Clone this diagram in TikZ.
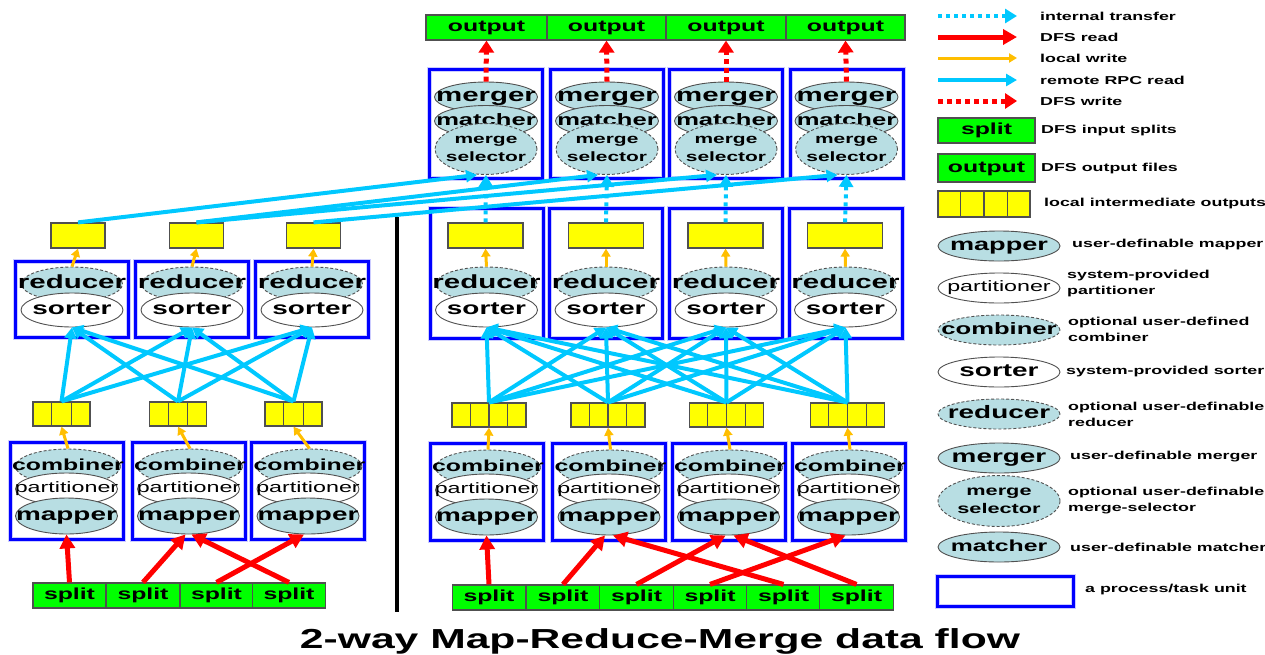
\documentclass[tikz,border=0pt]{standalone}
\usepackage{fontspec}
\setmainfont{Liberation Sans}[FakeStretch=1.55]
\usetikzlibrary{arrows.meta,shapes.geometric,calc}

\definecolor{taskblue}{RGB}{0,0,255}
\definecolor{rpccyan}{RGB}{0,200,255}
\definecolor{writeorange}{RGB}{255,190,0}
\definecolor{dfsred}{RGB}{255,0,0}
\definecolor{filegreen}{RGB}{0,255,0}
\definecolor{bufyellow}{RGB}{255,255,0}
\definecolor{opblue}{RGB}{184,222,227}
\definecolor{edgegray}{RGB}{80,80,80}

% text centred in a node without widening it
\newcommand\ctext[1]{\makebox[0pt]{\rule[-0.4ex]{0pt}{1.79ex}#1}}
\newcommand\twoline[2]{\makebox[0pt]{\begin{tabular}{@{}c@{}}#1\\#2\end{tabular}}}

% a yellow buffer split into equal cells
\newcommand\membuf[6][]{%
  \node[bufbox, minimum width={#5*#6}, #1] (#2) at (#3,#4) {};
  \pgfmathtruncatemacro\lastcell{#5-1}%
  \foreach \k in {1,...,\lastcell}{%
    \draw[bufedge] ($(#2.north west)!\k/#5!(#2.north east)$) -- ($(#2.south west)!\k/#5!(#2.south east)$);}%
}

\tikzset{
  fs/.style={font=\bfseries\fontsize{#1}{#1}\selectfont},
  fsr/.style={font=\mdseries\fontsize{#1}{#1}\selectfont},
  taskbox/.style={rectangle, draw=taskblue, line width=3pt, minimum width=113pt, inner sep=0pt,
    preaction={draw=taskblue!20, line width=5pt}},
  bufbox/.style={rectangle, draw=edgegray, fill=bufyellow, line width=1.2pt, minimum height=24pt, inner sep=0pt},
  bufedge/.style={draw=edgegray, line width=1.2pt},
  filebox/.style={rectangle, draw=edgegray, fill=filegreen, line width=1.2pt, inner sep=0pt, minimum height=25pt, fs=16},
  op/.style={ellipse, draw=edgegray, line width=0.9pt, inner sep=0pt},
  userop/.style={op, fill=opblue},
  sysop/.style={op, fill=white},
  optop/.style={op, fill=opblue, dash pattern=on 3pt off 2pt},
  rpc/.style={draw=rpccyan, line width=4pt, -{Triangle[length=11pt,width=12pt]}},
  internal/.style={draw=rpccyan, line width=4pt, dash pattern=on 4pt off 4pt, -{Triangle[length=12pt,width=14pt]}},
  dfsread/.style={draw=dfsred, line width=5pt, -{Triangle[length=14pt,width=15pt]}},
  dfswrite/.style={draw=dfsred, line width=5pt, dash pattern=on 5pt off 4pt, -{Triangle[length=12pt,width=15pt]}},
  localwrite/.style={draw=writeorange, line width=3pt, -{Triangle[length=8pt,width=9pt]}},
  lab/.style={anchor=west, inner sep=0pt, align=left, font=\bfseries\fontsize{11.5}{16}\selectfont},
}

\begin{document}
\begin{tikzpicture}[x=1pt,y=-1pt]
\useasboundingbox (0,0) rectangle (1265,654);

% ---------- plain Map-Reduce: mappers ----------
\foreach \i/\cx/\bx in {1/66.5/61.5, 2/188.5/178, 3/308/293.5}{
  \node[taskbox, minimum height=97pt] (lmt\i) at (\cx,490.5) {};
  \node[optop, minimum width=105pt, minimum height=35pt, fs=16] (lcomb\i) at (\cx+1.5,466.5) {\ctext{combiner}};
  \node[sysop, minimum width=102pt, minimum height=32pt, fsr=15] (lpart\i) at (\cx,489) {\ctext{partitioner}};
  \node[userop, minimum width=102pt, minimum height=36pt, fs=18] (lmap\i) at (\cx,516) {\ctext{mapper}};
  \membuf{lmb\i}{\bx}{414}{3}{19}
}
% reducers
\foreach \i/\cx/\ox in {1/72/78, 2/192/196.5, 3/312/313.5}{
  \node[taskbox, minimum height=76pt] (lrt\i) at (\cx,299) {};
  \node[optop, minimum width=101pt, minimum height=34pt, fs=19] (lred\i) at (\cx,284) {\ctext{reducer}};
  \node[sysop, minimum width=102pt, minimum height=34pt, fs=18] (lsort\i) at (\cx,310) {\ctext{sorter}};
  \node[bufbox, minimum width=54pt, minimum height=25pt] (lout\i) at (\ox,235.5) {};
}
% input splits
\foreach \i/\cx in {1/69.5, 2/143, 3/216.5, 4/289}{
  \node[filebox, minimum width=73pt] (ls\i) at (\cx,595.5) {\ctext{split}};
}

% ---------- Map-Reduce-Merge side: mappers ----------
\foreach \i/\cx/\bx in {1/486.5/489, 2/609/608, 3/728.5/726.5, 4/848.5/847.5}{
  \node[taskbox, minimum height=97pt] (rmt\i) at (\cx,491.5) {};
  \node[optop, minimum width=105pt, minimum height=35pt, fs=16] (rcomb\i) at (\cx+1.5,467.5) {\ctext{combiner}};
  \node[sysop, minimum width=102pt, minimum height=32pt, fsr=15] (rpart\i) at (\cx,490) {\ctext{partitioner}};
  \node[userop, minimum width=102pt, minimum height=36pt, fs=18] (rmap\i) at (\cx,517) {\ctext{mapper}};
  \membuf{rmb\i}{\bx}{415}{4}{18.5}
}
% reducers
\foreach \i/\cx/\ox in {1/486.5/485.5, 2/606/606, 3/726/725.5, 4/845.5/845}{
  \node[taskbox, minimum height=130pt] (rrt\i) at (\cx,273) {};
  \node[optop, minimum width=101pt, minimum height=34pt, fs=19] (rred\i) at (\cx,284) {\ctext{reducer}};
  \node[sysop, minimum width=102pt, minimum height=34pt, fs=18] (rsort\i) at (\cx,310) {\ctext{sorter}};
  \node[bufbox, minimum width=75pt, minimum height=25pt] (rout\i) at (\ox,235.5) {};
}
% mergers
\foreach \i/\cx in {1/486, 2/607, 3/726, 4/846.5}{
  \node[taskbox, minimum height=109pt] (mgt\i) at (\cx,123.5) {};
  \node[userop, minimum width=103pt, minimum height=30pt, fs=19] (merg\i) at (\cx,97) {\ctext{merger}};
  \node[userop, minimum width=103pt, minimum height=31pt, fs=16.5] (match\i) at (\cx,121) {\ctext{matcher}};
  \node[optop, minimum width=102pt, minimum height=36pt, font=\bfseries\fontsize{13.5}{18}\selectfont] (sel\i) at (\cx,149) {\twoline{merge}{selector}};
}
% output files
\foreach \i/\cx/\w in {1/486.5/121, 2/606.5/119, 3/726/120, 4/845.5/119}{
  \node[filebox, minimum width=\w pt] (out\i) at (\cx,27.5) {\ctext{output}};
}
% input splits
\foreach \i/\cx in {1/489, 2/563, 3/636.5, 4/710, 5/783.5, 6/856.5}{
  \node[filebox, minimum width=73.5pt] (rs\i) at (\cx,597.5) {\ctext{split}};
}

% separator between the two flows
\draw[line width=4pt] (397,217) -- (397,612);

% ---------- connectors ----------
% local writes
\foreach \i in {1,2,3}{
  \draw[localwrite] (lcomb\i.north) -- (lmb\i.south);
  \draw[localwrite] (lred\i.north) -- (lout\i.south);
}
\foreach \i in {1,...,4}{
  \draw[localwrite] (rcomb\i.north) -- (rmb\i.south);
  \draw[localwrite] (rred\i.north) -- (rout\i.south);
}
% shuffle: remote reads into the sorters
\foreach \i in {1,2,3}{\foreach \j in {1,2,3}{\draw[rpc] (lmb\i.north) -- (lsort\j.south);}}
\foreach \i in {1,...,4}{\foreach \j in {1,...,4}{\draw[rpc] (rmb\i.north) -- (rsort\j.south);}}
% reduce outputs into the merge selectors
\foreach \i in {1,...,4}{\draw[internal] (rout\i.north) -- (sel\i.south);}
\draw[rpc] (lout1.north) -- ([xshift=-9pt]sel1.south);
\draw[rpc] (lout2.north) -- ([xshift=-9pt]sel2.south);
\draw[rpc] (lout2.north) -- ([xshift=-9pt]sel3.south);
\draw[rpc] (lout3.north) -- ([xshift=-9pt]sel4.south);
% DFS reads
\draw[dfsread] (ls1.north) -- (lmap1.south);
\draw[dfsread] (ls2.north) -- ([xshift=-3pt]lmap2.south);
\draw[dfsread] (ls3.north) -- ([xshift=-4pt]lmap3.south);
\draw[dfsread] (ls4.north) -- ([xshift=3pt]lmap2.south);
\draw[dfsread] (rs1.north) -- (rmap1.south);
\draw[dfsread] (rs2.north) -- ([xshift=-4pt]rmap2.south);
\draw[dfsread] (rs3.north) -- ([xshift=-3pt]rmap3.south);
\draw[dfsread] (rs4.north) -- ([xshift=-3pt]rmap4.south);
\draw[dfsread] (rs5.north) -- ([xshift=4pt]rmap2.south);
\draw[dfsread] (rs6.north) -- ([xshift=5pt]rmap3.south);
% DFS writes
\foreach \i in {1,...,4}{\draw[dfswrite] (merg\i.north) -- (out\i.south);}

% ---------- key ----------
\coordinate (k1a) at (938,16);  \coordinate (k1b) at (1017,16);
\coordinate (k2a) at (938,37);  \coordinate (k2b) at (1017,37);
\coordinate (k3a) at (938,58);  \coordinate (k3b) at (1017,58);
\coordinate (k4a) at (938,80);  \coordinate (k4b) at (1017,80);
\coordinate (k5a) at (938,101); \coordinate (k5b) at (1017,101);
\draw[internal] (k1a) -- (k1b);
\draw[dfsread] (k2a) -- (k2b);
\draw[localwrite] (k3a) -- (k3b);
\draw[rpc] (k4a) -- (k4b);
\draw[dfswrite] (k5a) -- (k5b);
\node[lab] (k1t) at (1040,16) {internal transfer};
\node[lab] (k2t) at (1040,37) {DFS read};
\node[lab] (k3t) at (1040,58) {local write};
\node[lab] (k4t) at (1040,80) {remote RPC read};
\node[lab] (k5t) at (1040,101) {DFS write};

\node[filebox, minimum width=97pt] (ksplit) at (986.5,130.5) {\ctext{split}};
\node[lab] (ksplitt) at (1041,131) {DFS input splits};
\node[filebox, minimum width=97pt, minimum height=28pt] (kout) at (986.5,168) {\ctext{output}};
\node[lab] (koutt) at (1041,169) {DFS output files};
\membuf[minimum height=26pt]{kbuf}{984}{204}{4}{23}
\node[lab] (kbuft) at (1044,204) {local intermediate outputs};

\node[userop, minimum width=122pt, minimum height=30pt, fs=17.5] (kmap) at (999,246) {\ctext{mapper}};
\node[lab] (kmapt) at (1072,245) {user-definable mapper};
\node[sysop, minimum width=122pt, minimum height=30pt, fsr=15] (kpart) at (999,288) {\ctext{partitioner}};
\node[lab] (kpartt) at (1067,284) {system-provided\\partitioner};
\node[optop, minimum width=122pt, minimum height=30pt, fs=16.5] (kcomb) at (999,330) {\ctext{combiner}};
\node[lab] (kcombt) at (1068,329) {optional user-defined\\combiner};
\node[sysop, minimum width=122pt, minimum height=30pt, fs=18] (ksort) at (999,372) {\ctext{sorter}};
\node[lab] (ksortt) at (1066,372) {system-provided sorter};
\node[optop, minimum width=122pt, minimum height=30pt, fs=18] (kred) at (999,414) {\ctext{reducer}};
\node[lab] (kredt) at (1068,414) {optional user-definable\\reducer};
\node[userop, minimum width=122pt, minimum height=30pt, fs=18] (kmerg) at (999,458) {\ctext{merger}};
\node[lab] (kmergt) at (1070,457) {user-definable merger};
\node[optop, minimum width=122pt, minimum height=36pt, font=\bfseries\fontsize{14}{18}\selectfont] (ksel) at (999,501) {\twoline{merge}{selector}};
\node[lab] (kselt) at (1068,501) {optional user-definable\\merge-selector};
\node[userop, minimum width=122pt, minimum height=30pt, fs=16] (kmatch) at (999,547) {\ctext{matcher}};
\node[lab] (kmatcht) at (1070,547) {user-definable matcher};
\node[taskbox, minimum width=136pt, minimum height=30pt] (ktask) at (1005,591) {};
\node[lab] (ktaskt) at (1085,590) {a process/task unit};

% ---------- caption ----------
\node[anchor=base, inner sep=0pt, font=\bfseries\fontsize{27.5}{28}\selectfont] (title) at (660,648) {2-way Map-Reduce-Merge data flow};
\end{tikzpicture}
\end{document}
